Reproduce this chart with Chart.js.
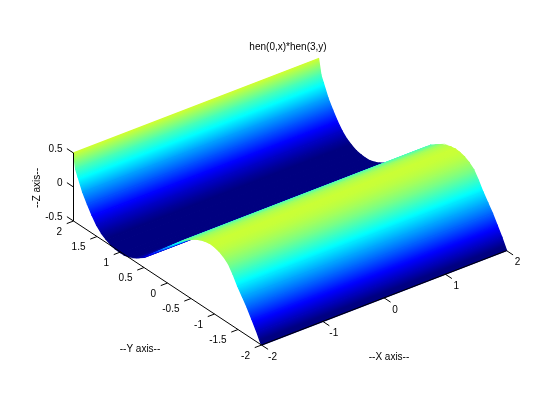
<!DOCTYPE html>
<html>
<head>
<meta charset="utf-8">
<title>hen(0,x)*hen(3,y)</title>
<style>
  html, body { margin: 0; padding: 0; background: #fff; }
  canvas { display: block; }
</style>
<script src="https://cdn.jsdelivr.net/npm/chart.js@4"></script>
</head>
<body>
<canvas id="chart" width="560" height="419"></canvas>
<script>
// surface profile (nearest edge first)
const yValues = [-2, -1.9, -1.8, -1.7, -1.6, -1.5, -1.4, -1.3, -1.2, -1.1, -1, -0.9, -0.8, -0.7, -0.6, -0.5, -0.4, -0.3, -0.2, -0.1,
  0, 0.1, 0.2, 0.3, 0.4, 0.5, 0.6, 0.7, 0.8, 0.9, 1, 1.1, 1.2, 1.3, 1.4, 1.5, 1.6, 1.7, 1.8, 1.9, 1.95, 2];
const zValues = [-0.5, -0.35, -0.22, -0.09, 0.02, 0.13, 0.26, 0.37, 0.43, 0.47, 0.49, 0.495, 0.48, 0.455, 0.42, 0.37, 0.32, 0.25, 0.175, 0.1,
  0.025, -0.05, -0.125, -0.2, -0.275, -0.35, -0.4, -0.446, -0.48, -0.505, -0.51, -0.505, -0.49, -0.455, -0.41, -0.34, -0.24, -0.12, 0.01, 0.19, 0.28, 0.5];
const xEnds = [-2, 2];

const xTicks = [-2, -1, 0, 1, 2];
const yTicks = [2, 1.5, 1, 0.5, 0, -0.5, -1, -1.5, -2];
const zTicks = [-0.5, 0, 0.5];

const titleText = "hen(0,x)*hen(3,y)";
const xLabel = "--X axis--";
const yLabel = "--Y axis--";
const zLabel = "--Z axis--";

// orthographic view, fitted to the corners of the box
function project(x, y, z) {
  return {
    x: 73.5 + (2 - y) * 47 + (x + 2) * 61.25,
    y: 221 + (2 - y) * 31 - (x + 2) * 23.6 - (z + 0.5) * 68
  };
}

const colorMin = -0.45;
const colorMax = 1.2;

function jet(t) {
  t = Math.min(1, Math.max(0, t));
  const ramp = v => Math.round(255 * Math.min(1, Math.max(0, v)));
  const r = 1.5 - Math.abs(4 * t - 3);
  const g = 1.5 - Math.abs(4 * t - 2);
  const b = 1.5 - Math.abs(4 * t - 1);
  return `rgb(${ramp(r)},${ramp(g)},${ramp(b)})`;
}

function colorPos(z) {
  return (z - colorMin) / (colorMax - colorMin);
}

// gradient across one strip, running square to the x direction
function stripColor(i) {
  return ctx => {
    const chart = ctx.chart;
    const sx = chart.scales.x;
    const sy = chart.scales.y;
    const a = project(-2, yValues[i], zValues[i]);
    const b = project(-2, yValues[i + 1], zValues[i + 1]);
    const e = project(2, yValues[i], zValues[i]);
    const dx = e.x - a.x;
    const dy = e.y - a.y;
    const len = Math.hypot(dx, dy);
    const nx = -dy / len;
    const ny = dx / len;
    let d = (b.x - a.x) * nx + (b.y - a.y) * ny;
    if (Math.abs(d) < 0.01) d = 0.01;
    const x0 = sx.getPixelForValue(a.x);
    const y0 = sy.getPixelForValue(a.y);
    // scales have no size yet on the first option pass
    if (!isFinite(x0) || !isFinite(y0)) return "#000";
    const g = chart.ctx.createLinearGradient(x0, y0, x0 + nx * d, y0 + ny * d);
    const t0 = colorPos(zValues[i]);
    const t1 = colorPos(zValues[i + 1]);
    for (let k = 0; k <= 8; k++) {
      g.addColorStop(k / 8, jet(t0 + (t1 - t0) * k / 8));
    }
    return g;
  };
}

function blackLine(points) {
  return {
    data: points,
    borderColor: "#000",
    borderWidth: 1,
    pointRadius: 0,
    fill: false,
    tension: 0
  };
}

const datasets = [];

// box edges and tick marks go first so they end up on top
datasets.push(blackLine([project(-2, 2, 0.5), project(-2, 2, -0.5), project(-2, -2, -0.5), project(2, -2, -0.5)]));
xTicks.forEach(v => datasets.push(blackLine([project(v, -2, -0.5), project(v, -2.14, -0.5)])));
yTicks.forEach(v => datasets.push(blackLine([project(-2, v, -0.5), project(-2.11, v, -0.5)])));
zTicks.forEach(v => datasets.push(blackLine([project(-2, 2, v), project(-2, 2.14, v)])));

// chart.js paints the first dataset last, so near strips come first
for (let i = 0; i < yValues.length - 1; i++) {
  datasets.push({
    data: [
      project(xEnds[0], yValues[i], zValues[i]),
      project(xEnds[1], yValues[i], zValues[i]),
      project(xEnds[1], yValues[i + 1], zValues[i + 1]),
      project(xEnds[0], yValues[i + 1], zValues[i + 1]),
      project(xEnds[0], yValues[i], zValues[i])
    ],
    backgroundColor: stripColor(i),
    borderColor: stripColor(i),
    borderWidth: 1.4,
    pointRadius: 0,
    fill: "shape",
    tension: 0
  });
}

const textPlugin = {
  id: "axisText",
  afterDraw(chart) {
    const c = chart.ctx;
    const put = (text, x, y, align) => {
      c.textAlign = align;
      c.fillText(text, x, y);
    };
    c.save();
    c.fillStyle = "#000";
    c.font = '10px "Liberation Sans", Arial, sans-serif';
    c.textBaseline = "middle";
    xTicks.forEach(v => {
      const p = project(v, -2, -0.5);
      put(String(v), p.x + 11, p.y + 12, "center");
    });
    yTicks.forEach(v => {
      const p = project(-2, v, -0.5);
      put(String(v), p.x - 11.5, p.y + 11, "right");
    });
    zTicks.forEach(v => {
      const p = project(-2, 2, v);
      put(String(v), p.x - 11, p.y - 4, "right");
    });
    put(titleText, 288, 47, "center");
    put(yLabel, 140, 349, "center");
    put(xLabel, 389, 357, "center");
    c.translate(37, 188);
    c.rotate(-Math.PI / 2);
    put(zLabel, 0, 0, "center");
    c.restore();
  }
};

new Chart(document.getElementById("chart").getContext("2d"), {
  type: "line",
  data: { datasets },
  plugins: [textPlugin],
  options: {
    responsive: false,
    animation: false,
    parsing: true,
    layout: { padding: 0 },
    plugins: {
      legend: { display: false },
      tooltip: { enabled: false },
      title: { display: false }
    },
    scales: {
      x: { type: "linear", min: 0, max: 560, display: false },
      y: { type: "linear", min: 0, max: 419, reverse: true, display: false }
    }
  }
});
</script>
</body>
</html>
